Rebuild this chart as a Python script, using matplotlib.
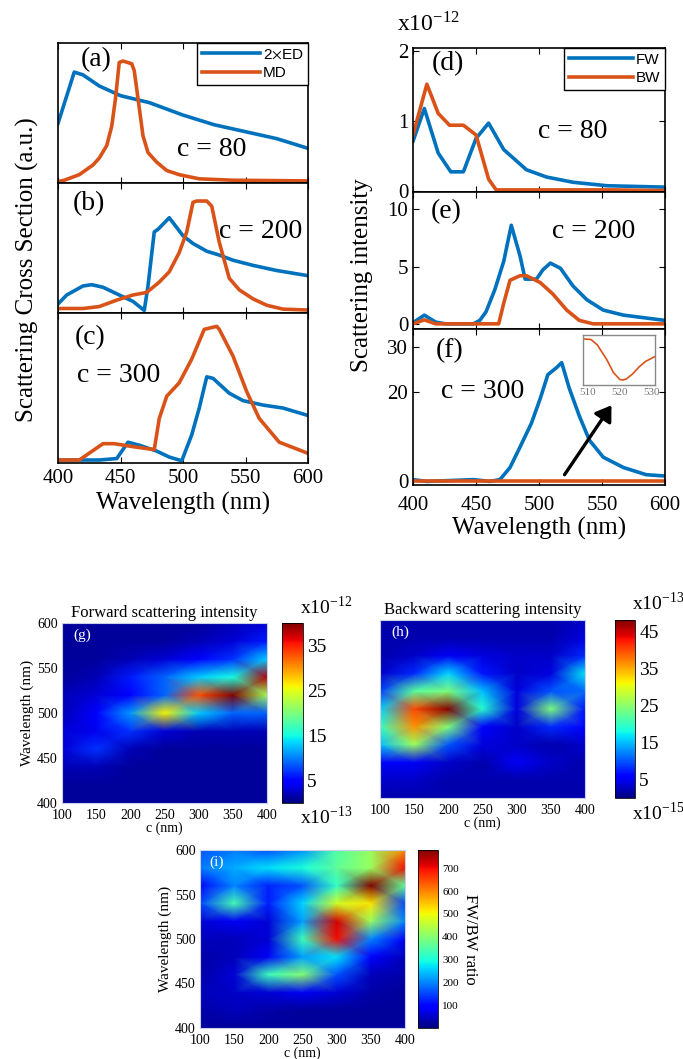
import numpy as np
import matplotlib
matplotlib.use("Agg")
import matplotlib.pyplot as plt

plt.rcParams['font.family'] = ['Liberation Serif', 'DejaVu Serif']
plt.rcParams['mathtext.fontset'] = 'stix'

BLUE = '#0072BD'
ORANGE = '#D95319'

# ---- spectra (wavelength in nm) ----
# (a) c = 80, normalized cross sections
ed_a_wl = [400, 413, 420, 433, 450, 473, 500, 525, 550, 575, 600]
ed_a = [0.42, 0.79, 0.77, 0.69, 0.62, 0.57, 0.48, 0.41, 0.36, 0.31, 0.24]
md_a_wl = [400, 405, 417, 428, 433, 439, 443, 446, 449, 452, 459, 461, 464, 468,
           472, 479, 487, 497, 513, 540, 600]
md_a = [0.0, 0.01, 0.05, 0.12, 0.17, 0.26, 0.40, 0.60, 0.86, 0.87, 0.85, 0.80,
        0.60, 0.33, 0.21, 0.14, 0.08, 0.05, 0.02, 0.01, 0.005]

# (b) c = 200
ed_b_wl = [400, 407, 420, 427, 436, 449, 460, 469, 472, 477, 480, 489, 500, 508,
           519, 529, 540, 556, 575, 600]
ed_b = [0.06, 0.13, 0.20, 0.21, 0.19, 0.13, 0.08, 0.01, 0.20, 0.62, 0.64, 0.73,
        0.59, 0.53, 0.47, 0.44, 0.40, 0.36, 0.32, 0.28]
md_b_wl = [400, 420, 433, 447, 460, 471, 481, 489, 497, 503, 508, 511, 519, 523,
           529, 537, 545, 556, 567, 580, 600]
md_b = [0.025, 0.025, 0.04, 0.09, 0.13, 0.15, 0.23, 0.31, 0.46, 0.62, 0.85, 0.86,
        0.86, 0.82, 0.54, 0.26, 0.17, 0.10, 0.05, 0.02, 0.013]

# (c) c = 300
ed_c_wl = [400, 433, 447, 456, 465, 479, 489, 499, 507, 513, 519, 524, 537, 548,
           564, 580, 600]
ed_c = [0.01, 0.01, 0.02, 0.13, 0.11, 0.07, 0.03, 0.005, 0.18, 0.36, 0.57, 0.56,
        0.46, 0.41, 0.38, 0.36, 0.31]
md_c_wl = [400, 417, 436, 445, 460, 477, 481, 487, 497, 507, 517, 527, 529, 540,
           551, 561, 577, 600]
md_c = [0.01, 0.01, 0.12, 0.12, 0.10, 0.08, 0.29, 0.44, 0.53, 0.69, 0.89, 0.91,
        0.89, 0.71, 0.47, 0.29, 0.13, 0.055]

# (d) c = 80, scattering intensity x1e-12
fw_d_wl = [400, 409, 420, 430, 440, 450, 460, 472, 490, 506, 527, 554, 600]
fw_d = [0.71, 1.18, 0.54, 0.27, 0.27, 0.75, 0.97, 0.59, 0.30, 0.195, 0.12, 0.07, 0.05]
bw_d_wl = [400, 411, 420, 429, 440, 450, 460, 466, 500, 560, 600]
bw_d = [0.80, 1.53, 1.11, 0.94, 0.94, 0.80, 0.165, 0.01, 0.01, 0.01, 0.0]

# (e) c = 200
fw_e_wl = [400, 409, 418, 426, 448, 453, 458, 465, 472, 478, 485, 489, 498, 503,
           509, 517, 527, 538, 551, 567, 600]
fw_e = [0.1, 0.76, 0.15, 0.0, 0.0, 0.3, 1.06, 3.0, 5.45, 8.6, 5.9, 3.9, 3.9, 4.7,
        5.3, 4.85, 3.3, 2.1, 1.2, 0.76, 0.3]
bw_e_wl = [400, 409, 418, 464, 468, 472, 477, 485, 490, 501, 511, 522, 532, 543, 600]
bw_e = [0.0, 0.35, 0.0, 0.0, 0.0, 1.8, 3.8, 4.2, 4.2, 3.6, 2.6, 1.2, 0.3, 0.0, 0.0]

# (f) c = 300
fw_f_wl = [400, 411, 448, 461, 469, 477, 485, 494, 501, 507, 514, 518, 524, 532,
           540, 551, 567, 585, 600]
fw_f = [0.4, 0.0, 0.4, 0.0, 0.4, 3.1, 7.7, 13, 18.5, 23.8, 25.4, 26.5, 20.8, 14.6,
        9.2, 5.4, 3.1, 1.5, 1.2]
bw_f_wl = [400, 450, 500, 550, 600]
bw_f = [0.0, 0.0, 0.0, 0.0, 0.0]

# inset of (f): BW around 520 nm (relative)
ins_wl = [509, 511, 513, 516, 518, 520, 521, 522, 524, 526, 528, 531]
ins_bw = [0.92, 0.91, 0.80, 0.50, 0.25, 0.11, 0.10, 0.12, 0.22, 0.36, 0.47, 0.57]

# ---- maps: c (nm) x wavelength (nm) ----
c_vals = [100, 150, 200, 250, 300, 350, 400]
wl_grid = [400, 420, 440, 460, 480, 500, 520, 540, 560, 580, 600]

fw_map = [  # x1e-13
    [1, 1, 1, 1, 1, 1, 1],
    [1, 1, 1, 1, 1, 1, 1],
    [2, 2, 1, 1, 1, 1, 1],
    [3, 7, 2, 1, 1, 1, 1],
    [3, 4, 7, 3, 2, 2, 2],
    [2, 5, 11, 26, 13, 9, 9],
    [2, 3, 5, 9, 33, 40, 22],
    [1, 2, 6, 9, 13, 15, 38],
    [1, 1, 2, 3, 5, 7, 13],
    [1, 1, 1, 1, 2, 3, 6],
    [1, 1, 1, 1, 1, 2, 3],
]
bw_map = [  # x1e-15
    [2, 2, 2, 2, 2, 2, 2],
    [3, 3, 2, 2, 2, 2, 2],
    [6, 5, 3, 2, 5, 3, 2],
    [15, 26, 10, 4, 3, 2, 3],
    [20, 36, 24, 6, 3, 8, 6],
    [16, 40, 50, 19, 4, 24, 7],
    [9, 22, 24, 15, 4, 10, 11],
    [3, 8, 16, 7, 3, 4, 17],
    [2, 3, 5, 4, 3, 3, 8],
    [2, 2, 2, 2, 2, 2, 4],
    [2, 2, 2, 2, 2, 2, 3],
]
ratio_map = [
    [20, 20, 20, 20, 20, 20, 20],
    [30, 40, 30, 20, 20, 20, 20],
    [40, 50, 60, 80, 60, 30, 20],
    [30, 60, 330, 400, 160, 40, 30],
    [30, 40, 80, 220, 270, 100, 40],
    [40, 40, 60, 330, 700, 200, 80],
    [60, 80, 60, 220, 720, 420, 200],
    [150, 340, 120, 260, 470, 520, 150],
    [100, 200, 120, 160, 320, 800, 360],
    [190, 230, 270, 300, 360, 420, 700],
    [160, 190, 160, 210, 350, 420, 600],
]

W, H = 683, 1059
fig = plt.figure(figsize=(W / 100, H / 100), dpi=100)


def px_axes(x0, y0, x1, y1):
    return fig.add_axes([x0 / W, 1 - y1 / H, (x1 - x0) / W, (y1 - y0) / H])


def ftext(x, y, s, **kw):
    fig.text(x / W, 1 - y / H, s, **kw)


wl_ticks = [400, 450, 500, 550, 600]


def style_line_axes(ax, show_x, xpad):
    ax.set_xlim(400, 600)
    ax.set_xticks(wl_ticks)
    ax.tick_params(direction='in', top=True, right=True, length=4, labelsize=15)
    ax.tick_params(axis='x', pad=xpad)
    if not show_x:
        ax.set_xticklabels([])
    for s in ax.spines.values():
        s.set_linewidth(1.2)


# ---- left column ----
left = [(43, 183, ed_a_wl, ed_a, md_a_wl, md_a),
        (183, 313, ed_b_wl, ed_b, md_b_wl, md_b),
        (313, 463, ed_c_wl, ed_c, md_c_wl, md_c)]
for i, (y0, y1, xw, ye, xm, ym) in enumerate(left):
    ax = px_axes(58, y0, 308, y1)
    ax.plot(xw, ye, color=BLUE, lw=2.6, label='2$\\times$ED')
    ax.plot(xm, ym, color=ORANGE, lw=2.6, label='MD')
    ax.set_ylim(-0.01, 1.0)
    ax.set_yticks([])
    style_line_axes(ax, i == 2, 4)
    if i == 0:
        leg = ax.legend(loc='upper right', borderaxespad=0, fancybox=False,
                        edgecolor='black', framealpha=1, handlelength=3.8,
                        handletextpad=0.2, borderpad=0.3, labelspacing=0.3,
                        prop={'family': 'Liberation Sans', 'size': 11})
        leg.get_frame().set_linewidth(1.0)
    if i == 2:
        ax.set_xlabel('Wavelength (nm)', fontsize=18, labelpad=3)

ftext(96, 60, '(a)', fontsize=20, ha='center', va='center')
ftext(212, 149, 'c = 80', fontsize=20, ha='center', va='center')
ftext(89, 204, '(b)', fontsize=20, ha='center', va='center')
ftext(261, 231, 'c = 200', fontsize=20, ha='center', va='center')
ftext(90, 338, '(c)', fontsize=20, ha='center', va='center')
ftext(119, 376, 'c = 300', fontsize=20, ha='center', va='center')
ftext(27, 270, 'Scattering Cross Section (a.u.)', fontsize=18, rotation=90,
      ha='center', va='center')

# ---- right column ----
right = [(48, 192, fw_d_wl, fw_d, bw_d_wl, bw_d, (-0.02, 2.05), [0, 1, 2]),
         (192, 329, fw_e_wl, fw_e, bw_e_wl, bw_e, (-0.45, 11.5), [0, 5, 10]),
         (329, 485, fw_f_wl, fw_f, bw_f_wl, bw_f, (-0.8, 34), [0, 20, 30])]
for i, (y0, y1, xf, yf, xb, yb, yl, yt) in enumerate(right):
    ax = px_axes(413, y0, 665, y1)
    ax.plot(xf, yf, color=BLUE, lw=2.6, label='FW')
    ax.plot(xb, yb, color=ORANGE, lw=2.6, label='BW')
    ax.set_ylim(*yl)
    ax.set_yticks(yt)
    style_line_axes(ax, i == 2, 8)
    if i == 0:
        leg = ax.legend(loc='upper right', borderaxespad=0, fancybox=False,
                        edgecolor='black', framealpha=1, handlelength=4.2,
                        handletextpad=0.2, borderpad=0.3, labelspacing=0.3,
                        prop={'family': 'Liberation Sans', 'size': 11})
        leg.get_frame().set_linewidth(1.0)
    if i == 2:
        ax.set_xlabel('Wavelength (nm)', fontsize=18, labelpad=1)

ftext(448, 64, '(d)', fontsize=20, ha='center', va='center')
ftext(573, 131, 'c = 80', fontsize=20, ha='center', va='center')
ftext(446, 212, '(e)', fontsize=20, ha='center', va='center')
ftext(594, 232, 'c = 200', fontsize=20, ha='center', va='center')
ftext(450, 351, '(f)', fontsize=20, ha='center', va='center')
ftext(483, 391, 'c = 300', fontsize=20, ha='center', va='center')
ftext(362, 275, 'Scattering intensity', fontsize=18, rotation=90,
      ha='center', va='center')
ftext(397, 24, 'x10$^{\\mathregular{-12}}$', fontsize=17, ha='left', va='center')

# inset
axi = px_axes(583, 335, 655, 385)
axi.plot(ins_wl, ins_bw, color=ORANGE, lw=1.2)
axi.set_xlim(508.5, 531)
axi.set_ylim(0, 1)
axi.set_yticks([])
axi.set_xticks([510, 520, 530])
axi.tick_params(length=0, labelsize=8, labelcolor='#777777', pad=2)
for s in axi.spines.values():
    s.set_color('#888888')
    s.set_linewidth(1.0)
fig.add_artist(matplotlib.patches.FancyArrowPatch(
    (563 / W, 1 - 477 / H), (613 / W, 1 - 403 / H), transform=fig.transFigure,
    arrowstyle='-|>,head_length=6,head_width=4', color='black', lw=2.4,
    mutation_scale=1.5))

# ---- maps ----
C, L = np.meshgrid(c_vals, wl_grid)


def map_axes(x0, y0, x1, y1, data, vmax, show_y):
    ax = px_axes(x0, y0, x1, y1)
    ax.pcolormesh(C, L, np.array(data, float), shading='gouraud', cmap='jet',
                  vmin=0, vmax=vmax)
    ax.set_xlim(100, 400)
    ax.set_ylim(400, 600)
    ax.set_xticks([100, 150, 200, 250, 300, 350, 400])
    ax.set_yticks([400, 450, 500, 550, 600])
    ax.tick_params(axis='x', length=0, labelsize=10, pad=4)
    ax.tick_params(axis='y', length=0, labelsize=10, pad=3)
    if not show_y:
        ax.set_yticklabels([])
    else:
        ax.set_ylabel('Wavelength (nm)', fontsize=11, labelpad=2)
    ax.set_xlabel('c (nm)', fontsize=10, labelpad=0)
    for s in ax.spines.values():
        s.set_color('#c8d0e8')
        s.set_linewidth(0.8)
    return ax


def cbar(x0, y0, x1, y1, vmax, ticks, size):
    cax = px_axes(x0, y0, x1, y1)
    sm = plt.cm.ScalarMappable(cmap='jet', norm=plt.Normalize(0, vmax))
    cb = fig.colorbar(sm, cax=cax, ticks=ticks)
    cb.outline.set_linewidth(0.6)
    cb.ax.tick_params(length=0, labelsize=size, pad=3)
    return cb


ax_g = map_axes(62, 623, 267, 803, fw_map, 40, True)
ax_g.set_title('Forward scattering intensity', fontsize=12, pad=4)
ax_g.text(0.1, 0.93, '(g)', transform=ax_g.transAxes, color='white', fontsize=11,
          ha='center', va='center')
cbar(282, 623, 303, 803, 40, [5, 15, 25, 35], 14)
ftext(300, 607, 'x10$^{\\mathregular{-12}}$', fontsize=14, ha='left', va='center')
ftext(300, 817, 'x10$^{\\mathregular{-13}}$', fontsize=14, ha='left', va='center')

ax_h = map_axes(380, 620, 585, 798, bw_map, 48, False)
ax_h.set_title('Backward scattering intensity', fontsize=12, pad=4)
ax_h.text(0.1, 0.93, '(h)', transform=ax_h.transAxes, color='white', fontsize=11,
          ha='center', va='center')
cbar(615, 620, 635, 798, 48, [5, 15, 25, 35, 45], 14)
ftext(632, 603, 'x10$^{\\mathregular{-13}}$', fontsize=14, ha='left', va='center')
ftext(632, 813, 'x10$^{\\mathregular{-15}}$', fontsize=14, ha='left', va='center')

ax_i = map_axes(200, 850, 405, 1028, ratio_map, 780, True)
ax_i.text(0.08, 0.93, '(i)', transform=ax_i.transAxes, color='white', fontsize=11,
          ha='center', va='center')
cb_i = cbar(418, 850, 438, 1028, 780, [100, 200, 300, 400, 500, 600, 700], 8)
cb_i.set_label('FW/BW ratio', fontsize=12, rotation=270, labelpad=14)

fig.savefig('out.png', dpi=100)
